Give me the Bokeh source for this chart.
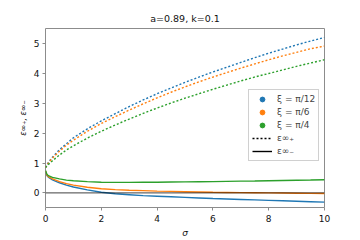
from bokeh.plotting import figure
from bokeh.models import Span, Legend, LegendItem, Range1d, FixedTicker
from bokeh.embed import file_html
from bokeh.resources import INLINE

sigma = [0, 0.05, 0.1, 0.25, 0.5, 0.75, 1, 1.5, 2, 2.5, 3, 3.5, 4, 4.5, 5,
         5.5, 6, 6.5, 7, 7.5, 8, 8.5, 9, 9.5, 10]

eps_plus_pi12 = [0.85, 0.95, 1.02, 1.2, 1.45, 1.65, 1.85, 2.15, 2.42, 2.66, 2.9,
                 3.12, 3.33, 3.52, 3.71, 3.89, 4.06, 4.22, 4.38, 4.54, 4.69,
                 4.83, 4.97, 5.1, 5.22]
eps_plus_pi6 = [0.85, 0.94, 1.0, 1.17, 1.4, 1.6, 1.77, 2.07, 2.33, 2.56, 2.78,
                2.99, 3.19, 3.38, 3.56, 3.73, 3.89, 4.04, 4.19, 4.33, 4.47,
                4.6, 4.72, 4.84, 4.93]
eps_plus_pi4 = [0.85, 0.9, 0.95, 1.08, 1.27, 1.44, 1.58, 1.84, 2.07, 2.28, 2.48,
                2.67, 2.85, 3.02, 3.18, 3.33, 3.48, 3.62, 3.76, 3.89, 4.01,
                4.13, 4.25, 4.36, 4.47]

eps_minus_pi12 = [0.72, 0.58, 0.53, 0.44, 0.34, 0.26, 0.2, 0.1, 0.02, -0.03,
                  -0.06, -0.09, -0.11, -0.13, -0.15, -0.17, -0.19, -0.205,
                  -0.22, -0.235, -0.25, -0.265, -0.28, -0.295, -0.31]
eps_minus_pi6 = [0.73, 0.6, 0.55, 0.47, 0.38, 0.31, 0.26, 0.19, 0.14, 0.11,
                 0.09, 0.075, 0.06, 0.05, 0.04, 0.03, 0.02, 0.015, 0.01, 0.005,
                 0.0, -0.005, -0.01, -0.015, -0.02]
eps_minus_pi4 = [0.75, 0.63, 0.58, 0.52, 0.47, 0.43, 0.41, 0.38, 0.36, 0.355,
                 0.355, 0.357, 0.36, 0.365, 0.37, 0.375, 0.38, 0.388, 0.395,
                 0.402, 0.41, 0.418, 0.425, 0.432, 0.44]

labels = ["ξ = π/12", "ξ = π/6", "ξ = π/4"]
colors = ["#1f77b4", "#ff7f0e", "#2ca02c"]
plus_series = [eps_plus_pi12, eps_plus_pi6, eps_plus_pi4]
minus_series = [eps_minus_pi12, eps_minus_pi6, eps_minus_pi4]

x_ticks = [0, 2, 4, 6, 8, 10]
y_ticks = [0, 1, 2, 3, 4, 5]

FONT = "DejaVu Sans"

p = figure(width=360, height=240, output_backend="svg", toolbar_location=None,
           x_range=Range1d(0, 10), y_range=Range1d(-0.49, 5.52),
           min_border_left=45, min_border_right=36, min_border_top=28,
           min_border_bottom=31, background_fill_color="white",
           border_fill_color="white")

p.grid.visible = False
p.outline_line_color = "#8c8c8c"
p.outline_line_width = 1

p.title.text = "a=0.89, k=0.1"
p.title.align = "center"
p.title.text_font = FONT
p.title.text_font_size = "9.5px"
p.title.text_font_style = "normal"
p.title.text_color = "#111111"

for ax in (p.xaxis[0], p.yaxis[0]):
    ax.axis_line_color = None
    ax.major_tick_line_color = "#8c8c8c"
    ax.major_tick_out = 3
    ax.major_tick_in = 0
    ax.minor_tick_line_color = None
    ax.major_label_text_font = FONT
    ax.major_label_text_font_size = "9px"
    ax.major_label_text_color = "#111111"
    ax.axis_label_text_font = FONT
    ax.axis_label_text_font_style = "italic"
    ax.axis_label_text_color = "#111111"

p.xaxis.ticker = FixedTicker(ticks=x_ticks)
p.yaxis.ticker = FixedTicker(ticks=y_ticks)
p.xaxis.axis_label = "σ"
p.xaxis.axis_label_text_font_size = "9px"
p.xaxis.axis_label_standoff = 3
p.xaxis.major_label_standoff = 4
p.yaxis.axis_label = "ε∞₊, ε∞₋"
p.yaxis.axis_label_text_font_size = "8px"
p.yaxis.axis_label_standoff = 3
p.yaxis.major_label_standoff = 3

p.add_layout(Span(location=0, dimension="width", line_color="black",
                  line_width=1, line_alpha=0.75))

for ys, c in zip(plus_series, colors):
    p.line(sigma, ys, line_color=c, line_width=1.4, line_dash="2 2")
for ys, c in zip(minus_series, colors):
    p.line(sigma, ys, line_color=c, line_width=1.4)

items = []
for lab, c, ys in zip(labels, colors, plus_series):
    # zero-size markers: invisible on the plot, legend draws its own key size
    r = p.scatter(sigma[:1], ys[:1], size=0, fill_color=c, line_color=c)
    items.append(LegendItem(label=lab, renderers=[r]))
# single-vertex lines draw nothing on the plot; used only as legend keys
rp = p.line(sigma[:1], eps_plus_pi12[:1], line_color="black", line_width=1.4,
            line_dash="2 2")
rm = p.line(sigma[:1], eps_minus_pi12[:1], line_color="black", line_width=1.4)
items.append(LegendItem(label="ε∞₊", renderers=[rp]))
items.append(LegendItem(label="ε∞₋", renderers=[rm]))

legend = Legend(items=items, location=(203, 46), glyph_width=20,
                glyph_height=12, label_height=12, spacing=1, padding=3,
                margin=0, label_text_font=FONT, label_text_font_size="9px",
                label_standoff=5, border_line_color="#d0d0d0",
                border_line_alpha=1, background_fill_alpha=0.8)
p.add_layout(legend, "center")

open("out.html", "w").write(file_html(p, INLINE))
